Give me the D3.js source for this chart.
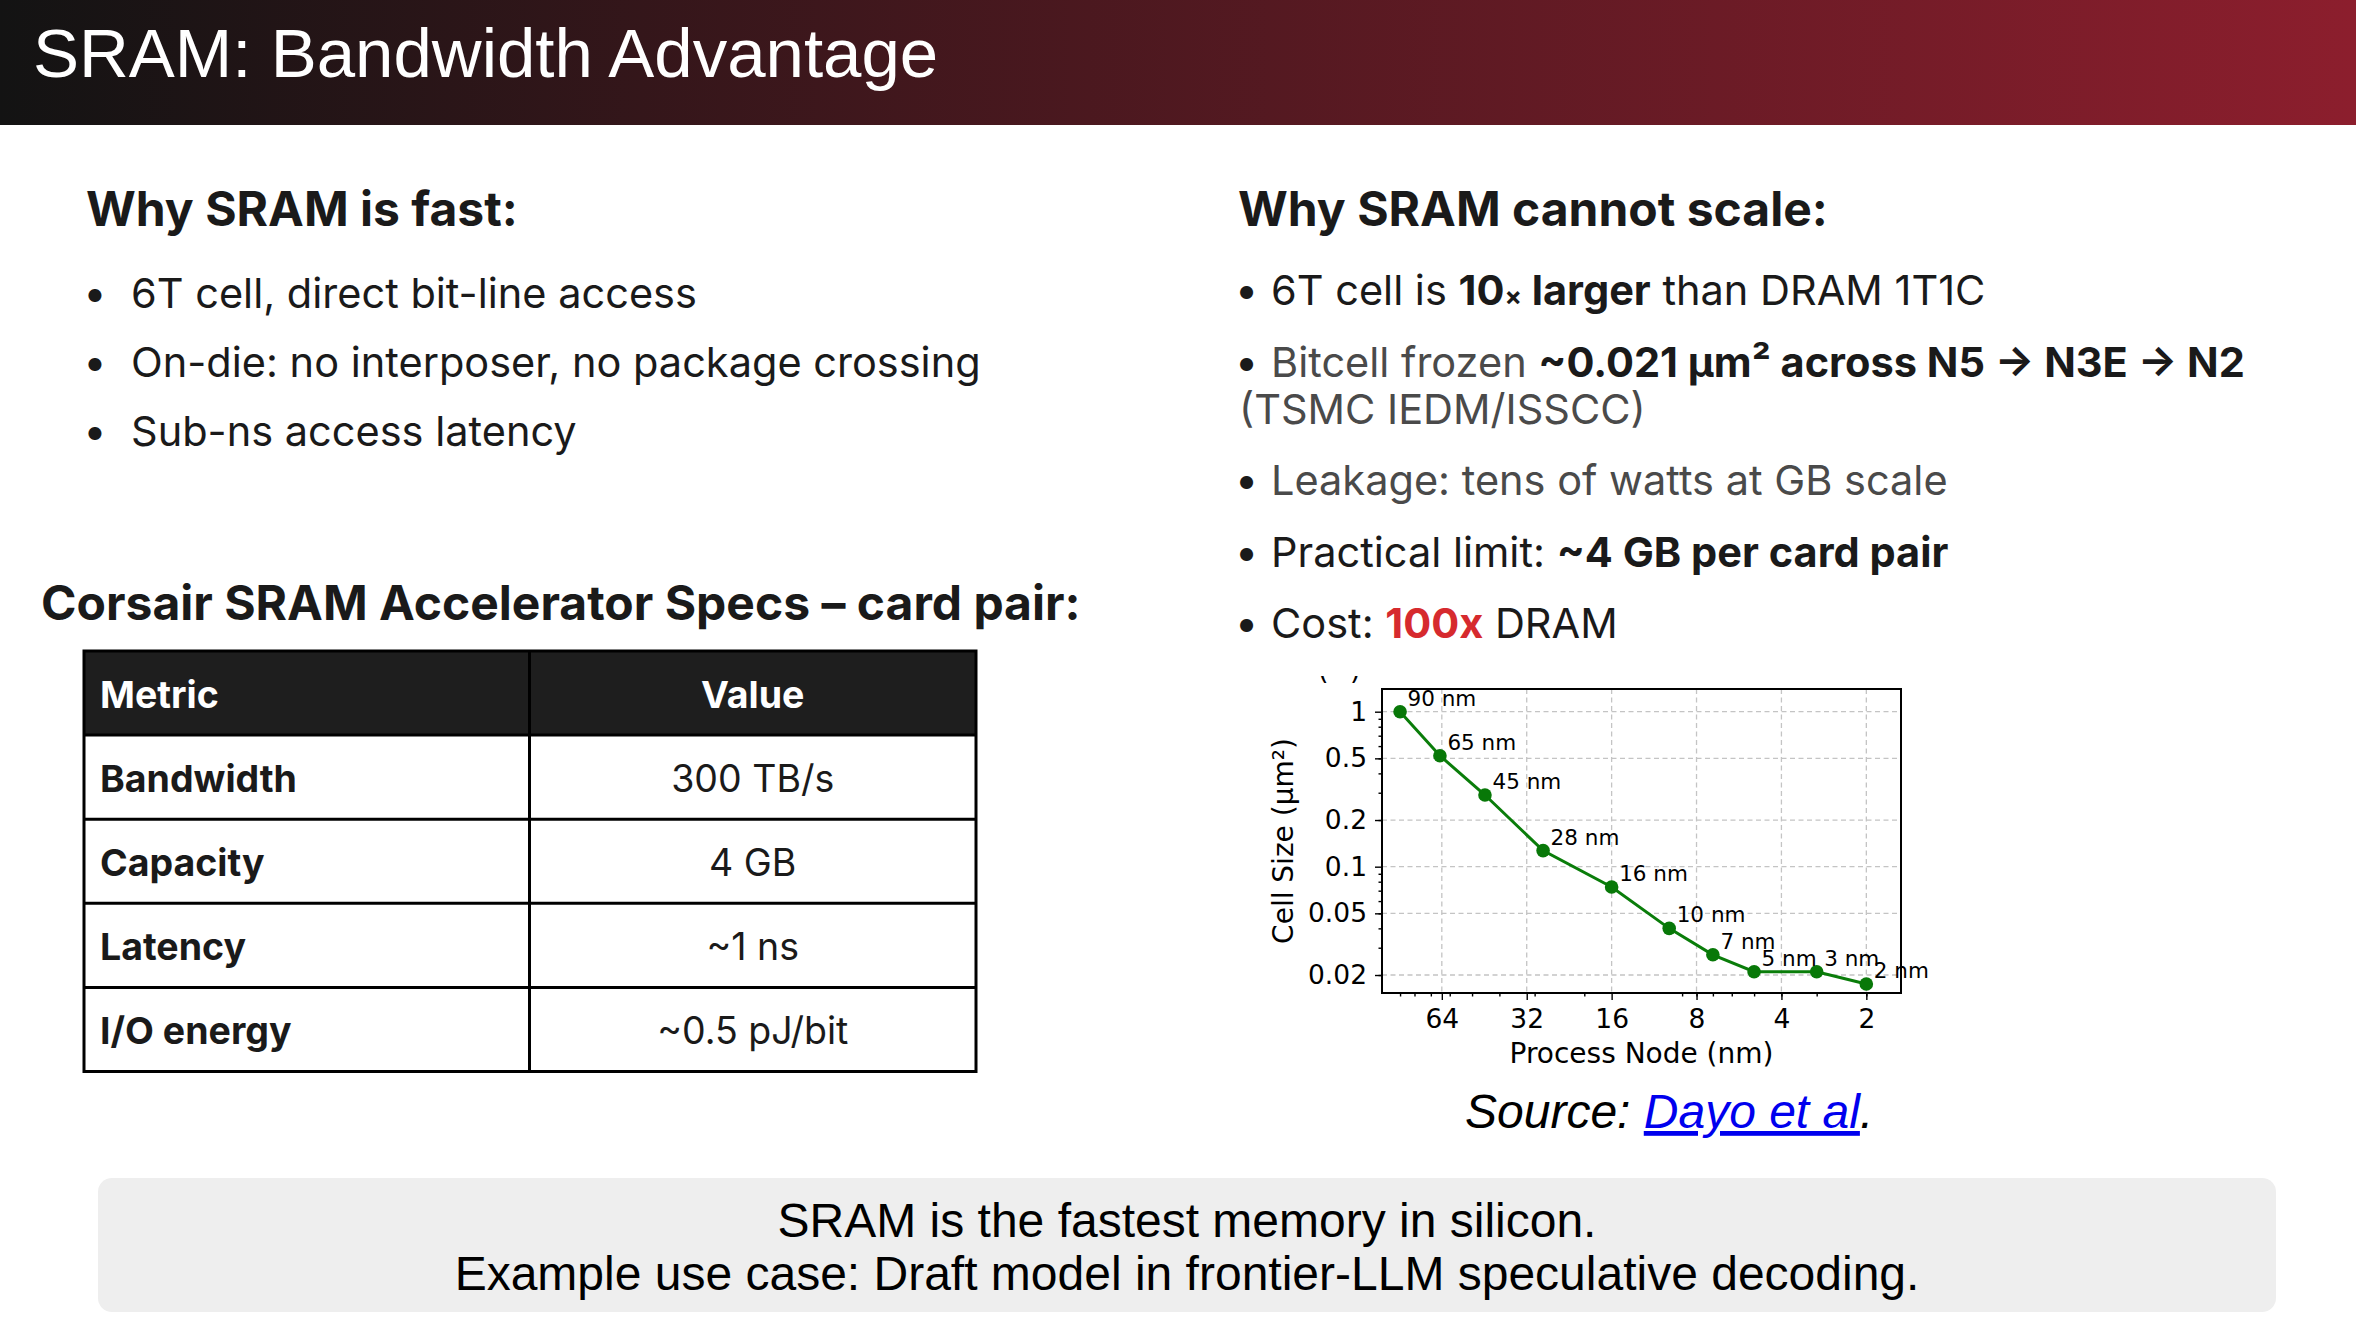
<!DOCTYPE html>
<html>
<head>
<meta charset="utf-8">
<script src="https://cdn.jsdelivr.net/npm/d3@7"></script>
<style>
  body { margin: 0; background: #ffffff; }
</style>
</head>
<body>
<div id="slide"></div>
<script>
// slide size
var svgWidth = 2356;
var svgHeight = 1330;

// chart data: SRAM bitcell size per process node
var nodeLabels = ["90 nm", "65 nm", "45 nm", "28 nm", "16 nm", "10 nm", "7 nm", "5 nm", "3 nm", "2 nm"];
var nodeSizes = [90, 65, 45, 28, 16, 10, 7, 5, 3, 2];
var cellSizes = [1.0, 0.52, 0.29, 0.127, 0.074, 0.040, 0.027, 0.021, 0.021, 0.0175];
var xTickValues = [64, 32, 16, 8, 4, 2];
var yTickValues = [1, 0.5, 0.2, 0.1, 0.05, 0.02];
var yTickLabels = ["1", "0.5", "0.2", "0.1", "0.05", "0.02"];

// slide text (** = bold, !! = red bold, \n = wrapped line)
var titleText = "SRAM: Bandwidth Advantage";
var fastHeading = "Why SRAM is fast:";
var fastBullets = [
  "6T cell, direct bit-line access",
  "On-die: no interposer, no package crossing",
  "Sub-ns access latency"
];
var scaleHeading = "Why SRAM cannot scale:";
var scaleBullets = [
  "6T cell is **10× larger** than DRAM 1T1C",
  "Bitcell frozen **~0.021 µm² across N5 → N3E → N2**\n(TSMC IEDM/ISSCC)",
  "Leakage: tens of watts at GB scale",
  "Practical limit: **~4 GB per card pair**",
  "Cost: !!100x!! DRAM"
];
var specHeading = "Corsair SRAM Accelerator Specs – card pair:";
var specColumns = ["Metric", "Value"];
var specMetrics = ["Bandwidth", "Capacity", "Latency", "I/O energy"];
var specValues = ["300 TB/s", "4 GB", "~1 ns", "~0.5 pJ/bit"];
var summaryLines = [
  "SRAM is the fastest memory in silicon.",
  "Example use case: Draft model in frontier-LLM speculative decoding."
];

var textFont = "Inter";
var slideFont = "Liberation Sans";
var plotFont = "DejaVu Sans";
var dark = "#1a1a1a";
var muted = "#4a4a4a";

var svg = d3.select("#slide")
  .append("svg")
  .attr("width", svgWidth)
  .attr("height", svgHeight);

svg.append("rect")
  .attr("width", svgWidth)
  .attr("height", svgHeight)
  .attr("fill", "#ffffff");

// header band
var defs = svg.append("defs");
var grad = defs.append("linearGradient")
  .attr("id", "headGrad")
  .attr("x1", "0%").attr("x2", "100%")
  .attr("y1", "0%").attr("y2", "0%");
grad.append("stop").attr("offset", "0%").attr("stop-color", "#131313");
grad.append("stop").attr("offset", "100%").attr("stop-color", "#8c1e2d");

svg.append("rect")
  .attr("width", svgWidth)
  .attr("height", 125)
  .attr("fill", "url(#headGrad)");

svg.append("text")
  .attr("x", 33)
  .attr("y", 77)
  .attr("font-family", slideFont)
  .attr("font-size", 69)
  .attr("fill", "#ffffff")
  .text(titleText);

// writes a string with ** / !! markup into a text element
function richText(sel, str, baseFill) {
  var parts = str.split(/(\*\*.*?\*\*|!!.*?!!)/).filter(p => p.length);
  parts.forEach(p => {
    var bold = false, fill = baseFill;
    if (p.startsWith("**")) { bold = true; fill = dark; p = p.slice(2, -2); }
    else if (p.startsWith("!!")) { bold = true; fill = "#d62a2e"; p = p.slice(2, -2); }
    // the multiplication sign is set smaller
    p.split(/(×)/).filter(q => q.length).forEach(q => {
      sel.append("tspan")
        .attr("font-weight", bold ? 700 : 400)
        .attr("fill", fill)
        .attr("font-size", q === "×" ? "0.62em" : null)
        .text(q);
    });
  });
}

// left column
svg.append("text")
  .attr("x", 86)
  .attr("y", 226)
  .attr("font-family", textFont)
  .attr("font-weight", 700)
  .attr("font-size", 48)
  .attr("fill", dark)
  .text(fastHeading);

var fastGroup = svg.append("g")
  .attr("font-family", textFont)
  .attr("font-size", 41.5)
  .attr("fill", dark);

fastGroup.selectAll("text.dot")
  .data(fastBullets)
  .enter()
  .append("text")
  .classed("dot", true)
  .attr("x", 95)
  .attr("y", (d, i) => 308 + i * 69)
  .attr("text-anchor", "middle")
  .text("•");

fastGroup.selectAll("text.item")
  .data(fastBullets)
  .enter()
  .append("text")
  .classed("item", true)
  .attr("x", 131)
  .attr("y", (d, i) => 308 + i * 69)
  .text(d => d);

// right column
svg.append("text")
  .attr("x", 1238)
  .attr("y", 226)
  .attr("font-family", textFont)
  .attr("font-weight", 700)
  .attr("font-size", 48)
  .attr("fill", dark)
  .text(scaleHeading);

var mutedBullets = [1, 2];
var scaleGroup = svg.append("g")
  .attr("font-family", textFont)
  .attr("font-size", 41.5);

var lineY = 305;
scaleBullets.forEach((b, i) => {
  var fill = mutedBullets.includes(i) ? muted : dark;
  var lines = b.split("\n");
  scaleGroup.append("text")
    .attr("x", 1246.5)
    .attr("y", lineY)
    .attr("text-anchor", "middle")
    .attr("font-weight", 700)
    .attr("fill", dark)
    .text("•");
  lines.forEach((ln, j) => {
    var t = scaleGroup.append("text")
      .attr("x", j === 0 ? 1271 : 1239)
      .attr("y", lineY + j * 47)
      .attr("fill", fill);
    richText(t, ln, fill);
  });
  lineY += 71.5 + (lines.length - 1) * 47;
});

// spec table
svg.append("text")
  .attr("x", 41)
  .attr("y", 620)
  .attr("font-family", textFont)
  .attr("font-weight", 700)
  .attr("font-size", 48)
  .attr("fill", dark)
  .text(specHeading);

var table = { left: 84, right: 976, split: 529.5, top: 651, rowH: 84.1 };
var tableGroup = svg.append("g")
  .attr("font-family", textFont)
  .attr("font-size", 37.5);

tableGroup.append("rect")
  .attr("x", table.left)
  .attr("y", table.top)
  .attr("width", table.right - table.left)
  .attr("height", table.rowH)
  .attr("fill", "#1e1e1e");

tableGroup.append("text")
  .attr("x", 100)
  .attr("y", table.top + 57)
  .attr("font-weight", 700)
  .attr("fill", "#ffffff")
  .text(specColumns[0]);

tableGroup.append("text")
  .attr("x", (table.split + table.right) / 2)
  .attr("y", table.top + 57)
  .attr("text-anchor", "middle")
  .attr("font-weight", 700)
  .attr("fill", "#ffffff")
  .text(specColumns[1]);

var rows = tableGroup.selectAll("g.row")
  .data(specMetrics)
  .enter()
  .append("g")
  .classed("row", true)
  .attr("transform", (d, i) => `translate(0, ${table.top + (i + 1) * table.rowH})`);

rows.append("text")
  .attr("x", 100)
  .attr("y", 57)
  .attr("font-weight", 700)
  .attr("fill", dark)
  .text(d => d);

rows.append("text")
  .attr("x", (table.split + table.right) / 2)
  .attr("y", 57)
  .attr("text-anchor", "middle")
  .attr("fill", dark)
  .text((d, i) => specValues[i]);

var nRows = specMetrics.length + 1;
tableGroup.selectAll("line.h")
  .data(d3.range(1, nRows))
  .enter()
  .append("line")
  .attr("x1", table.left).attr("x2", table.right)
  .attr("y1", d => table.top + d * table.rowH)
  .attr("y2", d => table.top + d * table.rowH)
  .attr("stroke", "#000").attr("stroke-width", 3);

tableGroup.append("line")
  .attr("x1", table.split).attr("x2", table.split)
  .attr("y1", table.top).attr("y2", table.top + nRows * table.rowH)
  .attr("stroke", "#000").attr("stroke-width", 3);

tableGroup.append("rect")
  .attr("x", table.left)
  .attr("y", table.top)
  .attr("width", table.right - table.left)
  .attr("height", nRows * table.rowH)
  .attr("fill", "none")
  .attr("stroke", "#000")
  .attr("stroke-width", 3);

// chart area
var plot = { left: 1382, right: 1901, top: 689, bottom: 993 };
var chartGroup = svg.append("g");

var xLogScale = d3.scaleLog().base(2)
  .domain([104.3, 1.507])
  .range([plot.left, plot.right]);
var yLogScale = d3.scaleLog()
  .domain([1.401, 0.01531])
  .range([plot.top, plot.bottom]);

var plotData = nodeSizes.map((n, i) => ({ node: n, size: cellSizes[i], label: nodeLabels[i] }));

// leftover of a cropped title above the figure
defs.append("clipPath").attr("id", "topCut")
  .append("rect").attr("x", 1300).attr("y", 676).attr("width", 80).attr("height", 12);
var cut = chartGroup.append("g").attr("clip-path", "url(#topCut)")
  .attr("font-family", plotFont).attr("font-size", 27).attr("fill", "#000");
cut.append("text").attr("x", 1318).attr("y", 679).text("(");
cut.append("text").attr("x", 1350).attr("y", 679).text(")");

// grid
chartGroup.selectAll("line.gx")
  .data(xTickValues)
  .enter()
  .append("line")
  .attr("x1", d => xLogScale(d)).attr("x2", d => xLogScale(d))
  .attr("y1", plot.top).attr("y2", plot.bottom)
  .attr("stroke", "#c4c4c4").attr("stroke-width", 1.3)
  .attr("stroke-dasharray", "5,3.5");

chartGroup.selectAll("line.gy")
  .data(yTickValues)
  .enter()
  .append("line")
  .attr("x1", plot.left).attr("x2", plot.right)
  .attr("y1", d => yLogScale(d)).attr("y2", d => yLogScale(d))
  .attr("stroke", "#c4c4c4").attr("stroke-width", 1.3)
  .attr("stroke-dasharray", "5,3.5");

// minor ticks at 2..9 of each decade
function minorValues(lo, hi) {
  var out = [];
  for (var p = -3; p <= 3; p++) {
    for (var s = 2; s <= 9; s++) {
      var v = s * Math.pow(10, p);
      if (v > lo && v < hi) out.push(v);
    }
  }
  return out;
}

function styleAxis(g) {
  g.select(".domain").remove();
  g.selectAll("line").attr("stroke", "#000").attr("stroke-width", 1.4);
  g.selectAll("text").attr("fill", "#000");
  g.attr("font-family", plotFont).attr("font-size", 26.5);
}

var bottomAxis = d3.axisBottom(xLogScale)
  .tickValues(xTickValues)
  .tickFormat(d => d)
  .tickSize(7)
  .tickPadding(9);
var bottomMinor = d3.axisBottom(xLogScale)
  .tickValues(minorValues(1.507, 104.3))
  .tickFormat("")
  .tickSize(3.5);
var leftAxis = d3.axisLeft(yLogScale)
  .tickValues(yTickValues)
  .tickFormat((d, i) => yTickLabels[i])
  .tickSize(7)
  .tickPadding(8);
var leftMinor = d3.axisLeft(yLogScale)
  .tickValues(minorValues(0.01531, 1.401))
  .tickFormat("")
  .tickSize(3.5);

chartGroup.append("g")
  .attr("transform", `translate(0, ${plot.bottom})`)
  .call(bottomMinor).call(styleAxis);
chartGroup.append("g")
  .attr("transform", `translate(0, ${plot.bottom})`)
  .call(bottomAxis).call(styleAxis);
chartGroup.append("g")
  .attr("transform", `translate(${plot.left}, 0)`)
  .call(leftMinor).call(styleAxis);
chartGroup.append("g")
  .attr("transform", `translate(${plot.left}, 0)`)
  .call(leftAxis).call(styleAxis);

// frame
chartGroup.append("rect")
  .attr("x", plot.left)
  .attr("y", plot.top)
  .attr("width", plot.right - plot.left)
  .attr("height", plot.bottom - plot.top)
  .attr("fill", "none")
  .attr("stroke", "#000")
  .attr("stroke-width", 2);

// axis titles
chartGroup.append("text")
  .attr("x", (plot.left + plot.right) / 2)
  .attr("y", 1063)
  .attr("text-anchor", "middle")
  .attr("font-family", plotFont)
  .attr("font-size", 28)
  .attr("fill", "#000")
  .text("Process Node (nm)");

chartGroup.append("text")
  .attr("transform", "translate(1293, 841) rotate(-90)")
  .attr("text-anchor", "middle")
  .attr("font-family", plotFont)
  .attr("font-size", 28)
  .attr("fill", "#000")
  .text("Cell Size (µm²)");

// line + markers
var sizeLine = d3.line()
  .x(d => xLogScale(d.node))
  .y(d => yLogScale(d.size));

chartGroup.append("path")
  .datum(plotData)
  .attr("d", sizeLine)
  .attr("fill", "none")
  .attr("stroke", "#0a7d0a")
  .attr("stroke-width", 3);

chartGroup.selectAll("circle")
  .data(plotData)
  .enter()
  .append("circle")
  .attr("cx", d => xLogScale(d.node))
  .attr("cy", d => yLogScale(d.size))
  .attr("r", 6.8)
  .attr("fill", "#087808");

chartGroup.selectAll("text.note")
  .data(plotData)
  .enter()
  .append("text")
  .classed("note", true)
  .attr("x", d => xLogScale(d.node) + 7.5)
  .attr("y", d => yLogScale(d.size) - 6)
  .attr("font-family", plotFont)
  .attr("font-size", 21.5)
  .attr("fill", "#000")
  .text(d => d.label);

// source line
var src = svg.append("text")
  .attr("x", 1465)
  .attr("y", 1128)
  .attr("font-family", slideFont)
  .attr("font-style", "italic")
  .attr("font-size", 48)
  .attr("fill", "#000");
src.append("tspan").text("Source: ");
src.append("tspan")
  .attr("fill", "#0000ee")
  .style("text-decoration", "underline")
  .text("Dayo et al");
src.append("tspan").text(".");

// summary box
svg.append("rect")
  .attr("x", 98)
  .attr("y", 1178)
  .attr("width", 2178)
  .attr("height", 134)
  .attr("rx", 14)
  .attr("fill", "#eeeeee");

svg.selectAll("text.summary")
  .data(summaryLines)
  .enter()
  .append("text")
  .classed("summary", true)
  .attr("x", 1187)
  .attr("y", (d, i) => 1237 + i * 53)
  .attr("text-anchor", "middle")
  .attr("font-family", slideFont)
  .attr("font-size", 48)
  .attr("fill", "#000")
  .text(d => d);
</script>
</body>
</html>
